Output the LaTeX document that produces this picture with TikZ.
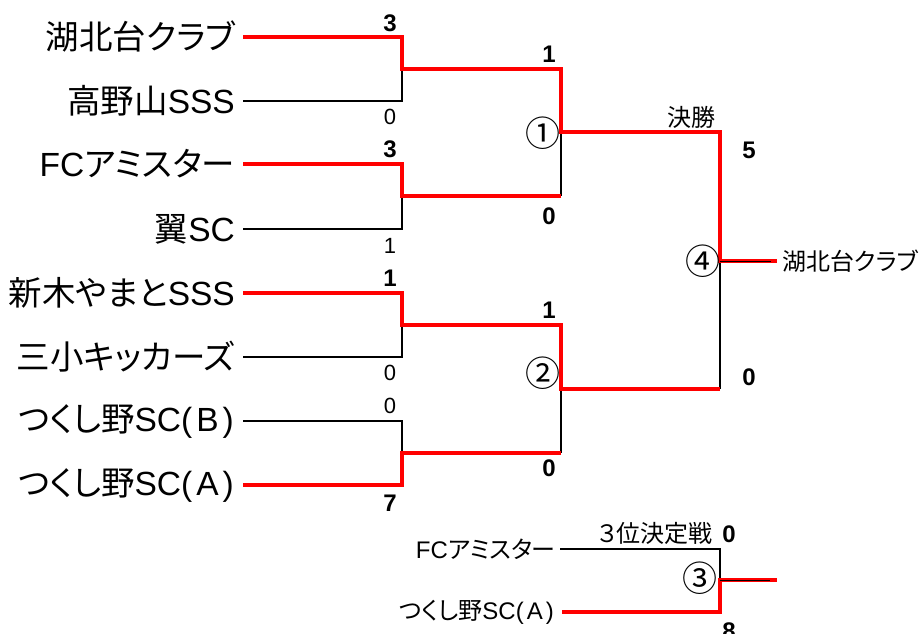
\documentclass[tikz,border=0pt]{standalone}
\usepackage{fontspec}
\setmainfont{Noto Sans CJK JP}
\newfontfamily\jp[RawFeature=+palt]{Noto Sans CJK JP}
\newfontfamily\lat{Liberation Sans}
\definecolor{bred}{RGB}{255,0,0}
\begin{document}
\begin{tikzpicture}[x=1pt,y=-1pt,
  team/.style={anchor=east,inner sep=0pt,font=\jp\fontsize{33.5}{33.5}\selectfont},
  lbl/.style={inner sep=0pt,font=\jp\fontsize{24}{24}\selectfont},
  sb/.style={inner sep=0pt,font=\lat\bfseries\fontsize{24}{24}\selectfont},
  sr/.style={inner sep=0pt,font=\lat\fontsize{22}{22}\selectfont},
  circ/.style={inner sep=0pt,font=\jp\fontsize{35}{35}\selectfont},
  blk/.style={draw=black,line width=1.8pt},
  rd/.style={draw=bred,line width=3.8pt},
  thin/.style={draw=black,line width=1pt}]
\useasboundingbox (0,0) rectangle (923,634);
% teams
\node[team] (n1) at (235,37) {湖北台クラブ};
\node[team] (n2) at (235,101) {高野山{\lat SSS}};
\node[team] (n3) at (235,164) {{\lat FC}アミスター};
\node[team] (n4) at (235,229) {翼{\lat SC}};
\node[team] (n5) at (235,293) {新木やまと{\lat SSS}};
\node[team] (n6) at (235,357) {三小キッカーズ};
\node[team] (n7) at (234,421) {つくし野{\lat SC(\hspace{4pt}B\hspace{4pt})}};
\node[team] (n8) at (234,485) {つくし野{\lat SC(\hspace{4pt}A\hspace{4pt})}};
% coordinates
\coordinate (s1) at (243,37);
\coordinate (s2) at (243,101);
\coordinate (s3) at (243,164);
\coordinate (s4) at (243,229);
\coordinate (s5) at (243,293);
\coordinate (s6) at (243,357);
\coordinate (s7) at (243,421);
\coordinate (s8) at (243,485);
\coordinate (j1) at (402,69);
\coordinate (j2) at (402,196);
\coordinate (j3) at (402,325);
\coordinate (j4) at (402,453);
\coordinate (a1) at (561,69);
\coordinate (a2) at (561,196);
\coordinate (a3) at (561,325);
\coordinate (a4) at (561,453);
\coordinate (q1) at (561,132);
\coordinate (q2) at (561,389);
\coordinate (f1) at (720,132);
\coordinate (f2) at (720,389);
\coordinate (f0) at (720,261);
\coordinate (w) at (777,261);
\coordinate (wb) at (771,261);
% black lines
\draw[blk] (s2) -| (j1);
\draw[blk] (s4) -| (j2);
\draw[blk] (s6) -| (j3);
\draw[blk] (s7) -| (j4);
\draw[blk] (a2) -- (q1);
\draw[blk] (a4) -- (q2);
\draw[blk] (f2) -- (f0);
% red lines
\draw[rd] (s1) -| (j1) -- (a1) -- (q1) -- (f1) -- (f0) -- (w);
\draw[rd] (s3) -| (j2) -- (a2);
\draw[rd] (s5) -| (j3) -- (a3) -- (q2) -- (f2);
\draw[rd] (s8) -| (j4) -- (a4);
\draw[thin] (f0) -- (wb);
% scores round 1
\node[sb] (r1) at (390,23) {3};
\node[sr] (r2) at (390,117) {0};
\node[sb] (r3) at (390,149) {3};
\node[sr] (r4) at (390,246) {1};
\node[sb] (r5) at (390,278) {1};
\node[sr] (r6) at (390,373) {0};
\node[sr] (r7) at (390,406) {0};
\node[sb] (r8) at (390,503) {7};
% scores round 2
\node[sb] (u1) at (549,54) {1};
\node[sb] (u2) at (549,216) {0};
\node[sb] (u3) at (549,310) {1};
\node[sb] (u4) at (549,468) {0};
\node[sb] (v1) at (749,150) {5};
\node[sb] (v2) at (749,377) {0};
% match numbers
\node[circ] (c1) at (543,133) {①};
\node[circ] (c2) at (543,373) {②};
\node[circ] (c4) at (703,261) {④};
\node[circ] (c3) at (700,578) {③};
\node[lbl] (fin) at (691,117) {決勝};
\node[lbl,anchor=west] (win) at (782,261) {湖北台クラブ};
% third place
\node[lbl] (tp) at (655,533) {３位決定戦};
\node[lbl,anchor=east] (p1) at (556,549) {{\lat FC}アミスター};
\node[lbl,anchor=east] (p2) at (554,612) {つくし野{\lat SC(\hspace{3pt}A\hspace{3pt})}};
\coordinate (ps1) at (560,549);
\coordinate (ps2) at (562,612);
\coordinate (t0) at (720,580);
\coordinate (tw) at (777,580);
\coordinate (twb) at (770,580);
\draw[blk] (ps1) -| (t0);
\draw[rd] (ps2) -| (t0) -- (tw);
\draw[thin] (t0) -- (twb);
\node[sb] (x1) at (729,534) {0};
\node[sb] (x2) at (729,631) {8};
\end{tikzpicture}
\end{document}
